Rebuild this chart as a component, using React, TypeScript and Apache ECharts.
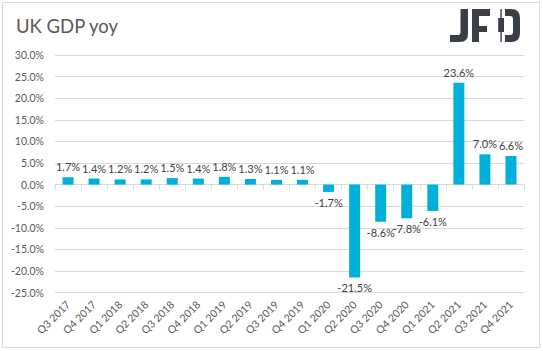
import React, { useEffect, useRef } from "react";
import * as echarts from "echarts";

const categories = [
  "Q3 2017", "Q4 2017", "Q1 2018", "Q2 2018", "Q3 2018", "Q4 2018",
  "Q1 2019", "Q2 2019", "Q3 2019", "Q4 2019", "Q1 2020", "Q2 2020",
  "Q3 2020", "Q4 2020", "Q1 2021", "Q2 2021", "Q3 2021", "Q4 2021",
];
const gdpYoy = [1.7, 1.4, 1.2, 1.2, 1.5, 1.4, 1.8, 1.3, 1.1, 1.1, -1.7, -21.5, -8.6, -7.8, -6.1, 23.6, 7.0, 6.6];
const title = "UK GDP yoy";

const logoD =
  "M460.5 9 H468 V34 Q468 42 460 42 H450 V35 H458 Q460.5 35 460.5 32 Z " +
  "M472 9 H490 V16 H479 V26 H487 V32 H479 V42 H472 Z " +
  "M500.4 9 H501.8 V18 H504 V32 H501.8 V42 H500.4 V32 H498.2 V18 H500.4 Z " +
  "M505 9 H511 Q520 9 520 18 V33 Q520 42 511 42 H505 V35 H510 Q513 35 513 32 V19 Q513 16 510 16 H505 Z";

let registered = false;

export default function App() {
  const ref = useRef<HTMLDivElement>(null);
  useEffect(() => {
    if (!registered) {
      echarts.graphic.registerShape("jfdlogo", echarts.graphic.extendPath(logoD, {}));
      registered = true;
    }
    const chart = echarts.init(ref.current!, null, { renderer: "svg" });
    const font = "Lato, 'Open Sans', sans-serif";
    chart.setOption({
      animation: false,
      backgroundColor: "#ffffff",
      textStyle: { fontFamily: font },
      grid: { left: 55, right: 19, top: 55, bottom: 58.4, outerBoundsMode: "none", containLabel: false },
      graphic: [
        {
          type: "rect",
          shape: { x: 2.5, y: 2.5, width: 537, height: 345 },
          style: { fill: "none", stroke: "#d9d9d9", lineWidth: 1 },
          silent: true,
        },
        {
          type: "text",
          left: 16,
          top: 16,
          style: { text: title, fill: "#595959", fontSize: 18.5, fontFamily: font },
        },
        {
          type: "jfdlogo",
          x: 0,
          y: 0,
          style: { fill: "#3a3f47" },
        },
      ],
      xAxis: {
        type: "category",
        data: categories,
        axisLine: { onZero: true, lineStyle: { color: "#d9d9d9" } },
        axisTick: { show: true, length: 5, lineStyle: { color: "#d9d9d9" } },
        axisLabel: {
          rotate: 45,
          margin: 10,
          color: "#595959",
          fontSize: 10.5,
          fontFamily: font,
          interval: 0,
        },
        splitLine: { show: false },
      },
      yAxis: {
        type: "value",
        min: -25,
        max: 30,
        interval: 5,
        axisLine: { show: false },
        axisTick: { show: false },
        axisLabel: {
          margin: 11,
          color: "#595959",
          fontSize: 10.5,
          fontFamily: font,
          formatter: (v: number) => v.toFixed(1) + "%",
        },
        splitLine: { lineStyle: { color: "#d9d9d9" } },
      },
      series: [
        {
          type: "bar",
          data: gdpYoy.map((v) => ({
            value: v,
            label: { position: v >= 0 ? "top" : "bottom" },
          })),
          barWidth: 11,
          itemStyle: { color: "#00b0da" },
          label: {
            show: true,
            distance: 5,
            color: "#404040",
            fontSize: 11,
            fontFamily: font,
            formatter: (p: any) => p.value.toFixed(1) + "%",
          },
        },
      ],
    });
    return () => chart.dispose();
  }, []);
  return (
    <div
      ref={ref}
      style={{ position: "fixed", left: 0, top: 0, width: 543, height: 351 }}
    />
  );
}
